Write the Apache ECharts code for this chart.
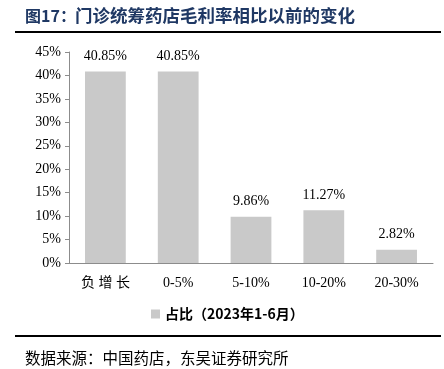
<!DOCTYPE html>
<html><head><meta charset="utf-8">
<script src="https://cdn.jsdelivr.net/npm/echarts@6/dist/echarts.min.js"></script>
<style>html,body{margin:0;padding:0;background:#fff}#c{width:444px;height:369px}</style>
</head><body><div id="c"></div>
<script>
const categories = ['负增长', '0-5%', '5-10%', '10-20%', '20-30%'];
const shareValues = [40.85, 40.85, 9.86, 11.27, 2.82];
const seriesName = '占比（2023年1-6月）';
const yTicks = { min: 0, max: 45, interval: 5 };
const titleLead = '图17：';
const titleText = '门诊统筹药店毛利率相比以前的变化';
const sourceText = '数据来源：中国药店，东吴证券研究所';

const serif = '"Liberation Serif","DejaVu Serif",serif';
const chart = echarts.init(document.getElementById('c'));
chart.setOption({
  animation: false,
  backgroundColor: '#fff',
  grid: { left: 69, right: 11, top: 52, bottom: 106 },
  legend: {
    data: [seriesName], left: 146, top: 302, itemWidth: 9, itemHeight: 9, itemGap: 5,
    icon: 'rect',
    textStyle: { fontFamily: '"Noto Sans CJK SC"', fontWeight: 'bold', fontSize: 14, color: '#000' }
  },
  graphic: [
    { type: 'text', left: 25, top: 8, style: { text: titleLead, font: 'bold 16px "Noto Sans CJK SC"', fill: '#1F3864' } },
    { type: 'text', left: 75, top: 7, style: { text: titleText, font: 'bold 17.5px "Noto Sans CJK SC"', fill: '#1F3864' } },
    { type: 'rect', shape: { x: 15, y: 31, width: 426, height: 2 }, style: { fill: '#000' } },
    { type: 'rect', shape: { x: 15, y: 335, width: 426, height: 2 }, style: { fill: '#000' } },
    { type: 'text', left: 25, top: 350, style: { text: sourceText, font: '15.5px "Noto Sans CJK SC"', fill: '#000' } }
  ],
  xAxis: {
    type: 'category', data: categories,
    axisLine: { lineStyle: { color: '#8c8c8c', width: 1 } },
    axisTick: { show: false },
    axisLabel: { fontFamily: serif + ',"Noto Sans CJK SC"', fontSize: 14, color: '#000', margin: 13,
      rich: {} ,
      formatter: v => v === '负增长' ? '负 增 长' : v }
  },
  yAxis: {
    type: 'value', min: yTicks.min, max: yTicks.max, interval: yTicks.interval,
    splitLine: { show: false },
    axisLine: { show: true, lineStyle: { color: '#8c8c8c', width: 1 } },
    axisTick: { show: true, length: 4, lineStyle: { color: '#8c8c8c' } },
    axisLabel: { formatter: '{value}%', fontFamily: serif, fontSize: 14, color: '#000', margin: 8 }
  },
  series: [{
    name: seriesName, type: 'bar', data: shareValues, barWidth: '56%',
    itemStyle: { color: '#C9C9C9' },
    label: { show: true, position: 'top', distance: 8, formatter: p => p.value.toFixed(2) + '%',
      fontFamily: serif, fontSize: 14, color: '#000' }
  }]
});
</script></body></html>
